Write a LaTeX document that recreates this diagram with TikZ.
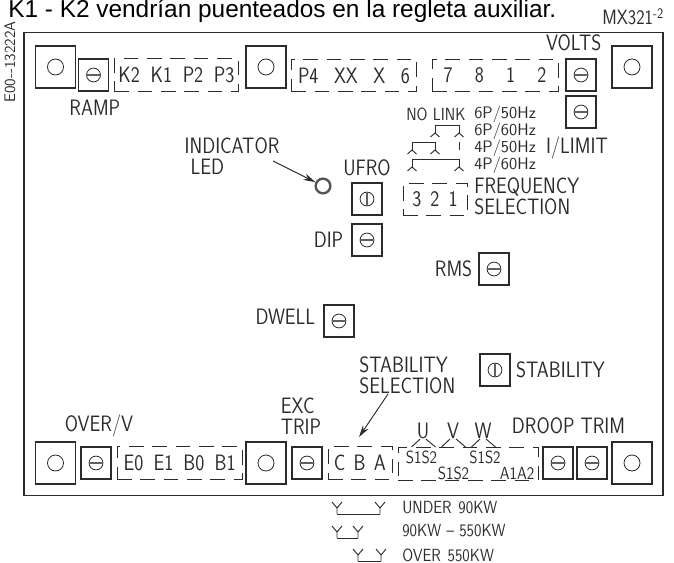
\documentclass[tikz,border=0pt]{standalone}
\usepackage{fontspec}
\setmainfont{Liberation Sans}
\setsansfont{Latin Modern Sans}[FakeStretch=0.86]
\newfontfamily\widefont{Latin Modern Sans}
\usetikzlibrary{positioning,arrows.meta}
\definecolor{ink}{HTML}{2B2B2B}
\tikzstyle{every picture}=[x=0.75pt, y=-0.75pt]
\tikzstyle{line}=[-, draw=ink, line width=0.7pt]
\tikzstyle{myarrow}=[-{Stealth[length=9pt, width=5pt]}, draw=ink, line width=0.7pt]
\tikzstyle{label}=[inner sep=0pt, text=ink, font=\sffamily\fontsize{16.7}{15.5}\selectfont, align=left]
\tikzstyle{tiny}=[inner sep=0pt, text=ink, font=\sffamily\fontsize{13.2}{13.2}\selectfont, anchor=west]
\tikzstyle{hertz}=[inner sep=0pt, text=ink, font=\widefont\fontsize{12.5}{12.5}\selectfont, anchor=west]
\tikzstyle{bigterm}=[rectangle, draw=ink, line width=0.8pt, minimum width=30pt, minimum height=31.5pt, inner sep=0pt,
        path picture={\draw[ink, line width=0.6pt] (path picture bounding box.center) circle (6pt);}]
\tikzstyle{pot}=[rectangle, draw=ink, line width=0.8pt, minimum width=22.5pt, minimum height=24pt, inner sep=0pt]
\tikzstyle{pothoriz}=[pot, path picture={
        \coordinate (c) at (path picture bounding box.center);
        \draw[ink, line width=0.6pt] (c) circle (5.2pt);
        \fill[ink!75] ([shift={(-5pt,-0.8pt)}]c) rectangle ([shift={(5pt,0.8pt)}]c);}]
\tikzstyle{potvert}=[pot, path picture={
        \coordinate (c) at (path picture bounding box.center);
        \draw[ink, line width=0.6pt] (c) circle (5.2pt);
        \fill[ink!75] ([shift={(-0.8pt,-5pt)}]c) rectangle ([shift={(0.8pt,5pt)}]c);}]
\tikzstyle{strip}=[rectangle, draw=ink, line width=0.6pt, dash pattern=on 11pt off 6.5pt, minimum height=24.5pt, inner sep=0pt,
        text=ink, font=\sffamily\fontsize{16.7}{15.5}\selectfont]
\tikzset{
    foot/.pic={\draw[line] (-4.5,4) -- (0,0) -- (4.5,4);},
    fork/.pic={\draw[line] (-5,-6) -- (0,0) -- (5,-6) (0,0) -- (0,6);}
}

\begin{document}
\begin{tikzpicture}
    \useasboundingbox (0,0) rectangle (674,563);

    \node (Note) [anchor=base west, inner sep=0pt, text=black, font=\fontsize{18.3}{18.3}\selectfont] at (8,18)
        {K1 - K2 vendrían puenteados en la regleta auxiliar.};
    \node (Model) [anchor=base west, inner sep=0pt, text=ink, font=\sffamily\fontsize{15.5}{15.5}\selectfont] at (602,25)
        {MX321\textsuperscript{-2}};
    \node (Drawing) [anchor=center, rotate=90, inner sep=0pt, text=ink, font=\widefont\fontsize{11.5}{11.5}\selectfont] at (10,62)
        {E00--13222A};

    \node (Board) [rectangle, draw=ink, line width=0.9pt, minimum width=479.25pt, minimum height=347pt, inner sep=0pt] at (343.5,264) {};

    \foreach \name/\x/\y in {TermA/55.5/67, TermB/266/67, TermC/632/67, TermD/55.5/463, TermE/266/463, TermF/632/463}
        \node (\name) [bigterm] at (\x,\y) {};

    \foreach \name/\x/\y in {Ramp/93.5/75, Volts/581/75, Limit/581/112, Dip/367/240, Rms/494/269, Dwell/339/321,
            Over/96/463, Trip/307/463, DroopA/558/463, DroopB/592/463}
        \node (\name) [pothoriz] at (\x,\y) {};
    \foreach \name/\x/\y in {Ufro/367/199, Stab/495/370}
        \node (\name) [potvert] at (\x,\y) {};

    % terminal strips
    \node (StripK) [strip, text width=87pt, minimum width=93pt, align=center, right=3.75pt of Ramp] {K2\hfill K1\hfill P2\hfill P3};
    \node (StripP) [strip, text width=84pt, minimum width=94pt, align=center] at (354,75.5) {P4\hfill XX\hfill X\hfill 6};
    \node (StripN) [strip, text width=77pt, minimum width=94.5pt, align=center] at (495,75.5) {7\hfill 8\hfill 1\hfill 2};
    \node (StripF) [strip, text width=34pt, minimum width=48pt, align=center] at (435,199.5) {3\hfill 2\hfill 1};
    \node (StripE) [strip, text width=84pt, minimum width=94pt, align=center, right=3.75pt of Over] {E0\hfill E1\hfill B0\hfill B1};
    \node (StripC) [strip, text width=39pt, minimum width=48pt, align=center, right=3.75pt of Trip] {C\hfill B\hfill A};
    \node (StripS) [strip, minimum width=105pt] at (468,464) {};

    \node (SOne) [tiny, anchor=center] at (421.5,457) {S1S2};
    \node (STwo) [tiny, anchor=center] at (485,457) {S1S2};
    \node (SThree) [tiny, anchor=center] at (453.5,473.5) {S1S2};
    \node (AOne) [tiny, anchor=center] at (517,473.5) {A1A2};

    % labels
    \node (RampText) [label, below=6.5pt of Ramp, xshift=1pt] {RAMP};
    \node (VoltsText) [label, above=5.5pt of Volts, xshift=-5.5pt] {VOLTS};
    \node (LimitText) [label, below=6pt of Limit, xshift=-3pt] {I/LIMIT};
    \node (UfroText) [label, above=4.5pt of Ufro] {UFRO};
    \node (DipText) [label, left=6pt of Dip] {DIP};
    \node (RmsText) [label, left=4.5pt of Rms] {RMS};
    \node (DwellText) [label, left=6pt of Dwell, yshift=3.5pt] {DWELL};
    \node (StabText) [label, right=4pt of Stab] {STABILITY};
    \node (OverText) [label] at (99,426) {OVER/V};
    \node (DroopText) [label] at (568.5,426) {DROOP TRIM};
    \node (ExcText) [label] at (301,416) {EXC\\TRIP};
    \node (LedText) [label] at (232,156) {INDICATOR\\\hspace*{4.5pt}LED};
    \node (FreqText) [label, anchor=west] at (474,196) {FREQUENCY\\SELECTION};
    \node (StabSel) [label, anchor=west] at (359,375) {STABILITY\\SELECTION};

    \node (Led) [circle, draw=ink!80, line width=1.8pt, minimum size=11pt, inner sep=0pt] at (323,186) {};
    \coordinate (LedTail) at (273,161);
    \draw[myarrow] (LedTail) -- (Led);
    \coordinate (StabTail) at (388,394);
    \coordinate (StabTip) at (359,437);
    \draw[myarrow] (StabTail) -- (StabTip);

    % frequency links
    \node (NoLink) [tiny] at (406,114) {NO\hspace{4pt}LINK};
    \node (FreqA) [hertz] at (474,114) {6P/50Hz};
    \node (FreqB) [hertz] at (474,131) {6P/60Hz};
    \node (FreqC) [hertz] at (474,148) {4P/50Hz};
    \node (FreqD) [hertz] at (474,165) {4P/60Hz};
    \coordinate (PinA) at (435,133);
    \coordinate (PinB) at (459,133);
    \coordinate (PinC) at (412,150);
    \coordinate (PinD) at (435,150);
    \coordinate (PinE) at (412,167);
    \coordinate (PinF) at (459,167);
    \coordinate (PinG) at (459,142);
    \coordinate (PinH) at (459,150);
    \draw[line] (PinA) -- ++(0,-8) -| (PinB);
    \draw[line] (PinC) -- ++(0,-8) -| (PinD);
    \draw[line] (PinE) -- ++(0,-8) -| (PinF);
    \draw[line] (PinG) -- (PinH);
    \foreach \pin in {PinA,PinB,PinC,PinD,PinE,PinF}
        \pic at (\pin) {foot};

    % phases
    \foreach \phase/\x in {U/423,V/453,W/483}{
        \node (\phase) [label] at (\x,431) {\phase};
        \coordinate (\phase Left) at (\x-11.5,447);
        \coordinate (\phase Right) at (\x+12.5,447);
        \draw[line] (\phase.south) ++(-3,0) coordinate (\phase A) (\phase A) -- (\phase Left);
        \draw[line] (\phase.south) ++(3,0) coordinate (\phase B) (\phase B) -- (\phase Right);
    }

    % sensing links
    \node (Under) [tiny] at (402,508) {UNDER\hspace{5pt}90KW};
    \node (Mid) [tiny] at (402,531) {90KW\hspace{4pt}--\hspace{4pt}550KW};
    \node (High) [tiny] at (402,555) {OVER\hspace{5pt}550KW};
    \foreach \name/\x/\y in {ForkA/337/508, ForkB/380/508, ForkC/337/532, ForkD/358/532, ForkE/358/555, ForkF/381/555}{
        \coordinate (\name) at (\x,\y);
        \pic at (\name) {fork};
    }
    \draw[line] ([yshift=-4.5pt]ForkA) -- ([yshift=-4.5pt]ForkB);
    \draw[line] ([yshift=-4.5pt]ForkC) -- ([yshift=-4.5pt]ForkD);
    \draw[line] ([yshift=-4.5pt]ForkE) -- ([yshift=-4.5pt]ForkF);
\end{tikzpicture}
\end{document}
